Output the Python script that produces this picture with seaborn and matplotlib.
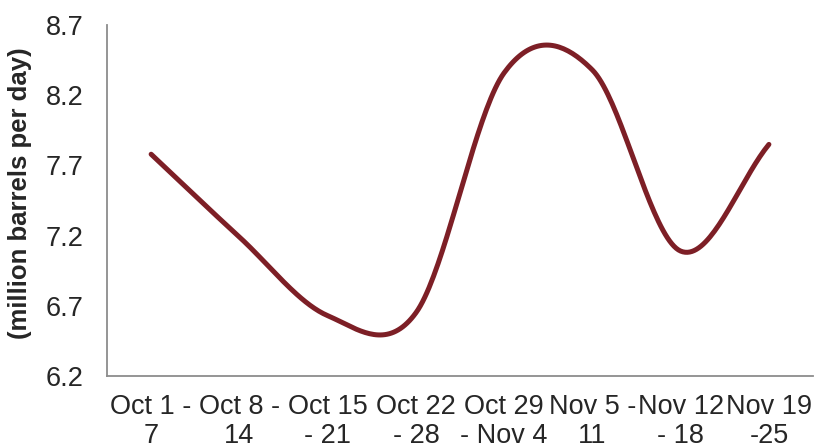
import matplotlib
matplotlib.use("Agg")
import matplotlib.pyplot as plt
import numpy as np
import seaborn as sns

WEEKS = [
    "Oct 1 -\n7", "Oct 8 -\n14", "Oct 15\n- 21", "Oct 22\n- 28",
    "Oct 29\n- Nov 4", "Nov 5 -\n11", "Nov 12\n- 18", "Nov 19\n-25",
]
VALUES = [7.78, 7.19, 6.63, 6.65, 8.36, 8.38, 7.09, 7.85]
Y_TICKS = [6.2, 6.7, 7.2, 7.7, 8.2, 8.7]

LINE_COLOR = "#7d1f26"
AXIS_GRAY = "#8c8c8c"


def smooth_curve(ys, steps=40):
    # Excel-style smoothed line (Catmull-Rom through the points)
    pts = np.array(ys, dtype=float)
    n = len(pts)
    xs_out, ys_out = [], []
    for i in range(n - 1):
        p0 = pts[max(i - 1, 0)]
        p1, p2 = pts[i], pts[i + 1]
        p3 = pts[min(i + 2, n - 1)]
        x0 = max(i - 1, 0)
        x3 = min(i + 2, n - 1)
        m1 = (p2 - p0) / (i + 1 - x0)
        m2 = (p3 - p1) / (x3 - i)
        t = np.linspace(0, 1, steps, endpoint=(i == n - 2))
        h00 = 2 * t**3 - 3 * t**2 + 1
        h10 = t**3 - 2 * t**2 + t
        h01 = -2 * t**3 + 3 * t**2
        h11 = t**3 - t**2
        xs_out.append(i + t)
        ys_out.append(h00 * p1 + h10 * m1 + h01 * p2 + h11 * m2)
    return np.concatenate(xs_out), np.concatenate(ys_out)


sns.set_theme(style="white")
plt.rcParams["font.family"] = ["Liberation Sans", "DejaVu Sans"]

fig = plt.figure(figsize=(8.2, 4.48), dpi=100)
ax = fig.add_axes([0.1305, 0.1607, 0.861, 0.7833])

cx, cy = smooth_curve(VALUES)
sns.lineplot(x=cx, y=cy, ax=ax, color=LINE_COLOR, linewidth=3.6,
             sort=False, estimator=None)
ax.lines[0].set_solid_capstyle("round")

ax.set_xlim(-0.5, len(WEEKS) - 0.5)
ax.set_ylim(Y_TICKS[0], Y_TICKS[-1])
ax.set_yticks(Y_TICKS)
ax.set_yticklabels([f"{v:.1f}" for v in Y_TICKS], fontsize=19.5)

ax.set_xticks(range(len(WEEKS)))
ax.set_xticklabels(WEEKS, fontsize=19.5, linespacing=1.15)
ax.set_xticks(np.arange(-0.5, len(WEEKS)), minor=True)
ax.tick_params(axis="x", which="major", length=0, pad=13)
ax.tick_params(axis="x", which="minor", length=5.5, width=1.3,
               color=AXIS_GRAY, direction="out")
ax.tick_params(axis="y", length=5.8, width=1.3, color=AXIS_GRAY,
               direction="out", pad=11)
ax.set_ylabel("(million barrels per day)", fontsize=18.5, fontweight="bold")
ax.yaxis.set_label_coords(-0.106, 0.521)

for side in ["top", "right"]:
    ax.spines[side].set_visible(False)
for side in ["left", "bottom"]:
    ax.spines[side].set_color(AXIS_GRAY)
    ax.spines[side].set_linewidth(1.3)

fig.savefig("out.png", dpi=100)
